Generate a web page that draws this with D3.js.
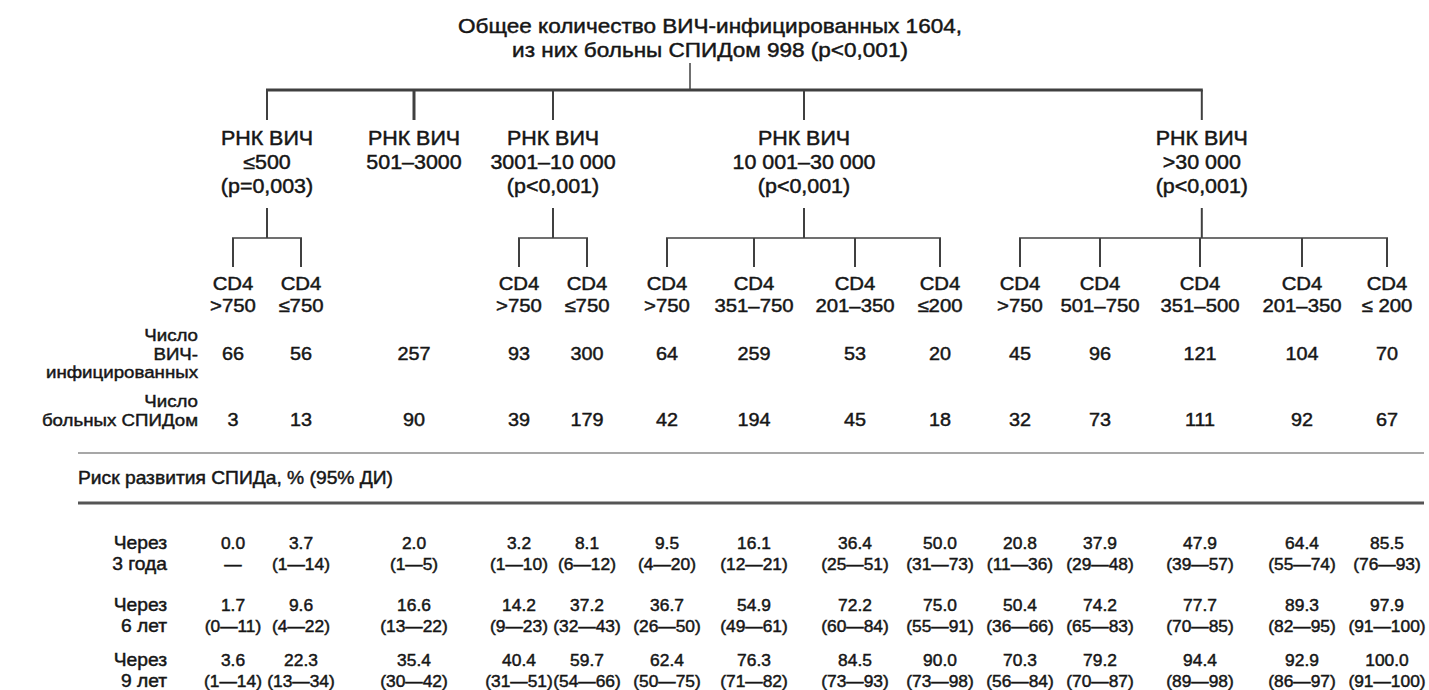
<!DOCTYPE html>
<html lang="ru">
<head>
<meta charset="UTF-8">
<title>Риск развития СПИДа</title>
<script src="https://d3js.org/d3.v7.min.js"></script>
<style>
    body { margin: 0; background: #fff; }
    svg text {
        font-family: "Liberation Sans", Arial, sans-serif;
        fill: #161616;
        stroke: #161616;
        stroke-width: 0.45px;
    }
</style>
</head>
<body>
<svg id="chart"></svg>
<script>
    // ---- data ----
    const titleLines = ["Общее количество ВИЧ-инфицированных 1604,", "из них больны СПИДом 998 (p<0,001)"];

    const rnaLabels = [
        ["РНК ВИЧ", "≤500", "(p=0,003)"],
        ["РНК ВИЧ", "501–3000"],
        ["РНК ВИЧ", "3001–10 000", "(p<0,001)"],
        ["РНК ВИЧ", "10 001–30 000", "(p<0,001)"],
        ["РНК ВИЧ", ">30 000", "(p<0,001)"]
    ];
    // which RNA group each CD4 column belongs to
    const leafGroup = [0, 0, 1, 2, 2, 3, 3, 3, 3, 4, 4, 4, 4, 4];
    const cd4Labels = [">750", "≤750", null, ">750", "≤750", ">750", "351–750", "201–350", "≤200",
                       ">750", "501–750", "351–500", "201–350", "≤ 200"];

    const infected = [66, 56, 257, 93, 300, 64, 259, 53, 20, 45, 96, 121, 104, 70];
    const aids     = [3, 13, 90, 39, 179, 42, 194, 45, 18, 32, 73, 111, 92, 67];

    const riskPeriods = [["Через", "3 года"], ["Через", "6 лет"], ["Через", "9 лет"]];
    const risk3 = [0.0, 3.7, 2.0, 3.2, 8.1, 9.5, 16.1, 36.4, 50.0, 20.8, 37.9, 47.9, 64.4, 85.5];
    const lo3   = [null, 1, 1, 1, 6, 4, 12, 25, 31, 11, 29, 39, 55, 76];
    const hi3   = [null, 14, 5, 10, 12, 20, 21, 51, 73, 36, 48, 57, 74, 93];
    const risk6 = [1.7, 9.6, 16.6, 14.2, 37.2, 36.7, 54.9, 72.2, 75.0, 50.4, 74.2, 77.7, 89.3, 97.9];
    const lo6   = [0, 4, 13, 9, 32, 26, 49, 60, 55, 36, 65, 70, 82, 91];
    const hi6   = [11, 22, 22, 23, 43, 50, 61, 84, 91, 66, 83, 85, 95, 100];
    const risk9 = [3.6, 22.3, 35.4, 40.4, 59.7, 62.4, 76.3, 84.5, 90.0, 70.3, 79.2, 94.4, 92.9, 100.0];
    const lo9   = [1, 13, 30, 31, 54, 50, 71, 73, 73, 56, 70, 89, 86, 91];
    const hi9   = [14, 34, 42, 51, 66, 75, 82, 93, 98, 84, 87, 98, 97, 100];

    const riskTitle = "Риск развития СПИДа, % (95% ДИ)";

    // ---- layout ----
    const width = 1429, height = 690;
    const sx = 1.1;            // the source type is a little wide
    const ink = "#404040";

    const svg = d3.select("#chart").attr("width", width).attr("height", height);

    const cols = d3.range(infected.length);
    const x = d3.scaleOrdinal()
        .domain(cols)
        .range([233, 301, 414, 519, 587, 667, 754, 855, 940, 1020, 1100, 1200, 1302, 1387]);

    const groupX = rnaLabels.map((_, g) => d3.mean(cols.filter(c => leafGroup[c] === g), x));

    // vertical bands of the tree
    const y = {
        titleStemTop: 63, bar1: 90, groupTop: 120,
        groupStemTop: 208, bar2: 238, leafTop: 267
    };

    function label(sel, px, py, lines, size, lh, anchor = "middle") {
        const g = sel.append("g");
        lines.forEach((t, i) => {
            g.append("text")
                .attr("transform", `translate(${px},${py + i * lh}) scale(${sx},1)`)
                .attr("text-anchor", anchor)
                .style("font-size", size + "px")
                .text(t);
        });
        return g;
    }

    const line = (x1, y1, x2, y2, w) => svg.append("line")
        .attr("x1", x1).attr("y1", y1).attr("x2", x2).attr("y2", y2)
        .attr("stroke", ink).attr("stroke-width", w);

    // ---- title and first split ----
    const titleX = 710, titleStemX = 690;
    label(svg, titleX, 33, titleLines, 20.5, 24);
    line(titleStemX, y.titleStemTop, titleStemX, y.bar1, 1.5);
    line(groupX[0] - 1, y.bar1, groupX[groupX.length - 1] + 1, y.bar1, 3);
    groupX.forEach((gx, g) => {
        line(gx, y.bar1, gx, y.groupTop, g === 1 ? 3 : 2);
        label(svg, gx, 145, rnaLabels[g], 19.5, 24);
    });

    // ---- second split (CD4) ----
    groupX.forEach((gx, g) => {
        const leaves = cols.filter(c => leafGroup[c] === g);
        if (leaves.length < 2) return;
        const xs = leaves.map(c => x(c));
        line(gx, y.groupStemTop, gx, y.bar2, 2);
        line(d3.min(xs) - 1, y.bar2, d3.max(xs) + 1, y.bar2, 1.5);
        xs.forEach(lx => line(lx, y.bar2, lx, y.leafTop, 2));
    });
    cols.forEach(c => {
        if (cd4Labels[c]) label(svg, x(c), 290, ["CD4", cd4Labels[c]], 18.5, 22);
    });

    // ---- counts ----
    const rowLabelX = 198;
    label(svg, rowLabelX, 341, ["Число", "ВИЧ-", "инфицированных"], 17, 18.5, "end");
    label(svg, rowLabelX, 407, ["Число", "больных СПИДом"], 17, 19, "end");
    cols.forEach(c => {
        label(svg, x(c), 360, [String(infected[c])], 18, 0);
        label(svg, x(c), 426, [String(aids[c])], 18, 0);
    });

    // ---- risk block ----
    line(78, 453, 1424, 453, 1.5).attr("stroke", "#8a8a8a");
    label(svg, 78, 484, [riskTitle], 17.5, 0, "start");
    line(78, 503, 1424, 503, 3).attr("stroke", "#555");

    const riskRows = [
        { period: riskPeriods[0], v: risk3, lo: lo3, hi: hi3 },
        { period: riskPeriods[1], v: risk6, lo: lo6, hi: hi6 },
        { period: riskPeriods[2], v: risk9, lo: lo9, hi: hi9 }
    ];
    const rowY = d3.scaleOrdinal().domain([0, 1, 2]).range([549, 611, 666]);
    const riskLh = 21;
    riskRows.forEach((r, i) => {
        label(svg, 167, rowY(i), r.period, 17.5, riskLh, "end");
        cols.forEach(c => {
            const ci = r.lo[c] == null ? "—" : `(${r.lo[c]}—${r.hi[c]})`;
            label(svg, x(c), rowY(i), [r.v[c].toFixed(1), ci], 15.8, riskLh);
        });
    });
</script>
</body>
</html>
